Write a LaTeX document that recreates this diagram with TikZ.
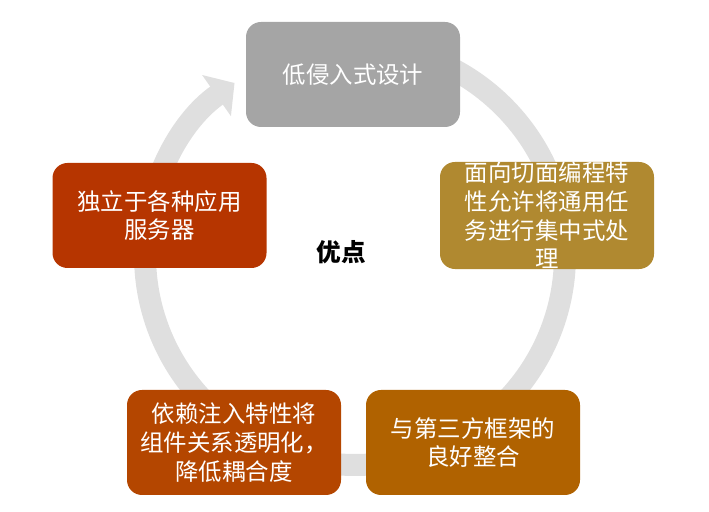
\documentclass[tikz,border=0pt]{standalone}
\usepackage{fontspec}
\usepackage{xcolor}
\usepackage{tikz}
\usetikzlibrary{arrows.meta}
\newfontfamily\cjk{Noto Sans CJK SC}

\definecolor{boxgray}{HTML}{A5A5A5}
\definecolor{boxochre}{HTML}{B08930}
\definecolor{boxred}{HTML}{B63500}
\definecolor{boxrust}{HTML}{B44600}
\definecolor{boxamber}{HTML}{B06200}
\definecolor{ringgray}{HTML}{DFDFDF}

\begin{document}
\begin{tikzpicture}[
    merit/.style={rounded corners=0.45cm, align=center, minimum width=6.42cm, minimum height=3.15cm,
        inner sep=0pt, text=white, font=\cjk\fontsize{20}{24.5}\selectfont},
    title/.style={font=\cjk\bfseries\fontsize{21}{25}\selectfont},
    ring/.style={draw=ringgray, line width=0.66cm, -{Triangle[width=1.47cm, length=0.66cm]}}
]
\useasboundingbox (0,0) rectangle (21.27,15.36);
\coordinate (ctr) at (10.65,7.71);

% the cycle behind the boxes
\draw[ring] (ctr) ++(90:6.3) arc[start angle=90, end angle=-235, radius=6.3];

\node[merit, fill=boxgray] at (10.59,13.125) (invasive) {低侵入式设计};
\node[merit, fill=boxochre] at (16.41,8.895) (aspect) {面向切面编程特\\性允许将通用任\\务进行集中式处\\理};
\node[merit, fill=boxamber] at (14.19,2.085) (thirdparty) {与第三方框架的\\良好整合};
\node[merit, fill=boxrust] at (7.02,2.085) (inject) {依赖注入特性将\\组件关系透明化，\\降低耦合度};
\node[merit, fill=boxred] at (4.785,8.895) (server) {独立于各种应用\\服务器};

\node[title] at (10.23,7.8) (merits) {优点};
\end{tikzpicture}
\end{document}
